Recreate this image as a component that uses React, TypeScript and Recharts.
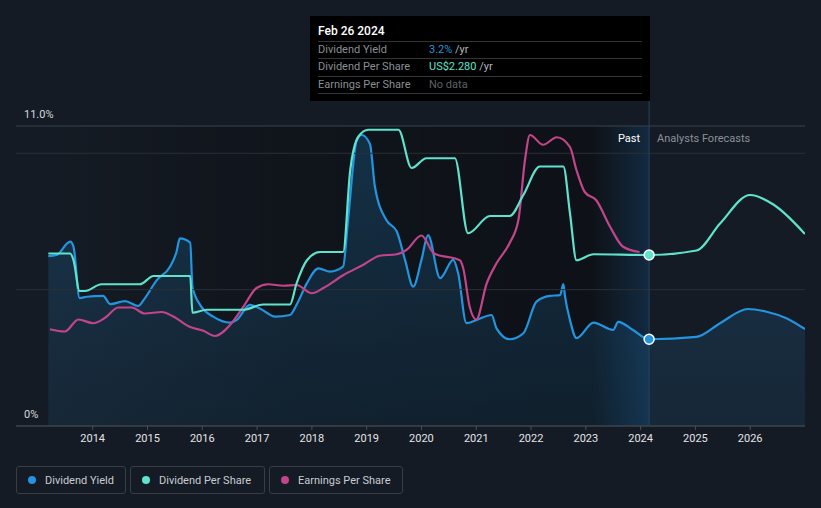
import React from 'react';
import {
  ComposedChart,
  Line,
  Area,
  XAxis,
  YAxis,
  ReferenceLine,
  ReferenceArea,
  ReferenceDot,
} from 'recharts';

// Dividend yield (%) — past + forecast
const yieldYears = [2013.19, 2013.34, 2013.59, 2013.65, 2013.76, 2013.89, 2014.19, 2014.32, 2014.59, 2014.83, 2014.95, 2015.17, 2015.41, 2015.53, 2015.59, 2015.78, 2015.82, 2015.96, 2016.2, 2016.51, 2016.63, 2016.87, 2017.05, 2017.33, 2017.6, 2017.72, 2017.91, 2018.12, 2018.33, 2018.57, 2018.66, 2018.82, 2018.91, 2019.06, 2019.15, 2019.36, 2019.55, 2019.7, 2019.85, 2020.0, 2020.12, 2020.34, 2020.58, 2020.67, 2020.82, 2021.01, 2021.28, 2021.37, 2021.61, 2021.86, 2022.1, 2022.34, 2022.53, 2022.59, 2022.62, 2022.71, 2022.83, 2023.14, 2023.5, 2023.59, 2023.86, 2024.155, 2025.02, 2025.45, 2025.96, 2026.3, 2026.66, 2027.0];
const yieldValues = [6.23, 6.27, 6.76, 6.57, 4.69, 4.74, 4.77, 4.47, 4.58, 4.4, 4.68, 5.35, 5.84, 6.39, 6.88, 6.72, 5.11, 4.44, 4.01, 3.79, 3.89, 4.44, 4.31, 4.01, 4.07, 4.44, 5.24, 5.78, 5.66, 5.84, 7.55, 10.49, 10.67, 10.34, 8.78, 7.55, 7.13, 6.09, 5.11, 6.09, 7.0, 5.42, 6.09, 5.6, 3.77, 3.89, 4.07, 3.58, 3.18, 3.4, 4.56, 4.77, 4.8, 5.2, 4.75, 3.89, 3.22, 3.79, 3.52, 3.82, 3.52, 3.18, 3.27, 3.77, 4.29, 4.19, 3.95, 3.55];

// Dividend per share (US$)
const dpsYears = [2013.19, 2013.59, 2013.65, 2013.76, 2013.86, 2014.16, 2014.86, 2015.11, 2015.78, 2015.82, 2016.08, 2016.75, 2017.11, 2017.6, 2017.72, 2017.91, 2018.15, 2018.57, 2018.7, 2018.85, 2019.03, 2019.58, 2019.82, 2020.09, 2020.61, 2020.85, 2021.25, 2021.61, 2021.86, 2022.16, 2022.59, 2022.71, 2022.83, 2023.14, 2024.155, 2025.02, 2025.45, 2026.0, 2026.43, 2027.0];
const dpsValues = [2.3, 2.3, 2.21, 1.8, 1.8, 1.89, 1.89, 2.0, 2.0, 1.51, 1.55, 1.55, 1.62, 1.62, 1.9, 2.21, 2.32, 2.32, 3.41, 3.86, 3.95, 3.95, 3.44, 3.57, 3.57, 2.57, 2.8, 2.8, 3.08, 3.46, 3.46, 2.84, 2.21, 2.29, 2.28, 2.34, 2.7, 3.08, 2.95, 2.56];

// Earnings per share (US$)
const epsYears = [2013.22, 2013.49, 2013.74, 2014.01, 2014.22, 2014.47, 2014.71, 2014.95, 2015.26, 2015.47, 2015.78, 2016.02, 2016.23, 2016.51, 2016.75, 2016.99, 2017.2, 2017.48, 2017.72, 2018.0, 2018.21, 2018.57, 2018.94, 2019.24, 2019.55, 2019.73, 2020.0, 2020.23, 2020.7, 2020.76, 2020.88, 2021.0, 2021.19, 2021.37, 2021.61, 2021.77, 2021.89, 2021.98, 2022.22, 2022.47, 2022.71, 2022.83, 2022.98, 2023.19, 2023.44, 2023.68, 2023.98];
const epsValues = [1.29, 1.26, 1.42, 1.37, 1.44, 1.58, 1.58, 1.5, 1.52, 1.46, 1.32, 1.27, 1.2, 1.35, 1.59, 1.84, 1.89, 1.87, 1.88, 1.77, 1.84, 2.01, 2.15, 2.27, 2.29, 2.35, 2.54, 2.3, 2.21, 2.11, 1.59, 1.42, 1.9, 2.17, 2.44, 2.75, 3.55, 3.88, 3.75, 3.85, 3.72, 3.41, 3.12, 3.01, 2.66, 2.39, 2.32];

const yearTicks = [2014, 2015, 2016, 2017, 2018, 2019, 2020, 2021, 2022, 2023, 2024, 2025, 2026];

const presentYear = 2024.155;
const pastStart = 2023.15;
const dataStart = 2013.19;
const currentYield = 3.18;
const currentDps = 2.28;

const yieldData = yieldYears.map((x, i) => ({ x, yld: yieldValues[i] }));
const dpsData = dpsYears.map((x, i) => ({ x, dps: dpsValues[i] }));
const epsData = epsYears.map((x, i) => ({ x, eps: epsValues[i] }));

const BLUE = '#2394df';
const TEAL = '#5fe3cd';
const PINK = '#c2458b';
const FONT = 'Roboto, "Noto Sans", sans-serif';

const PastLabel = (props: any) => {
  const vb = props.viewBox || {};
  const x = vb.x;
  const y = (vb.y || 0) + 41;
  return (
    <g>
      <text x={x - 9} y={y} textAnchor="end" fill="#ffffff" fontSize={11} fontFamily={FONT}>
        Past
      </text>
      <text x={x + 8} y={y} textAnchor="start" fill="#8b9098" fontSize={11} fontFamily={FONT}>
        Analysts Forecasts
      </text>
    </g>
  );
};

const legendItems = [
  { label: 'Dividend Yield', color: BLUE, width: 110 },
  { label: 'Dividend Per Share', color: TEAL, width: 135 },
  { label: 'Earnings Per Share', color: PINK, width: 134 },
];

export default function App() {
  return (
    <div
      style={{
        position: 'absolute',
        left: 0,
        top: 0,
        width: 821,
        height: 508,
        background: '#151b24',
        overflow: 'hidden',
        fontFamily: FONT,
      }}
    >
      <ComposedChart
        width={821}
        height={508}
        margin={{ top: 101, right: 16, bottom: 52, left: 16 }}
      >
        <defs>
          <linearGradient id="darkGrad" x1="0" y1="0" x2="1" y2="0">
            <stop offset="0" stopColor="#000000" stopOpacity={0} />
            <stop offset="0.45" stopColor="#000000" stopOpacity={0.25} />
            <stop offset="1" stopColor="#000000" stopOpacity={0.35} />
          </linearGradient>
          <linearGradient id="pastGrad" x1="0" y1="0" x2="1" y2="0">
            <stop offset="0" stopColor="#0e1319" stopOpacity={1} />
            <stop offset="1" stopColor="#132a41" stopOpacity={1} />
          </linearGradient>
          <linearGradient id="areaGrad" x1="0" y1="0" x2="0" y2="1">
            <stop offset="0" stopColor={BLUE} stopOpacity={0.22} />
            <stop offset="1" stopColor={BLUE} stopOpacity={0.1} />
          </linearGradient>
        </defs>
        <XAxis
          dataKey="x"
          type="number"
          domain={[2012.6, 2027.0]}
          ticks={yearTicks}
          allowDataOverflow
          height={30}
          axisLine={{ stroke: '#3f444c' }}
          tickLine={{ stroke: '#4a4f57' }}
          tickSize={4}
          tick={{ fill: '#e2e4e8', fontSize: 11, fontFamily: FONT }}
          tickMargin={4}
        />
        <YAxis yAxisId="yield" hide domain={[0, 11.9167]} allowDataOverflow type="number" />
        <YAxis yAxisId="dps" hide domain={[0, 4.3333]} allowDataOverflow type="number" />

        <ReferenceArea
          yAxisId="yield"
          x1={dataStart}
          x2={pastStart}
          y1={0}
          y2={11}
          fill="url(#darkGrad)"
          fillOpacity={1}
          stroke="none"
          zIndex={-60}
        />
        <ReferenceArea
          yAxisId="yield"
          x1={pastStart}
          x2={presentYear}
          y1={0}
          y2={11}
          fill="url(#pastGrad)"
          fillOpacity={1}
          stroke="none"
          zIndex={-60}
        />

        <ReferenceLine yAxisId="yield" y={5} stroke="#2a2f37" strokeWidth={1} />
        <ReferenceLine yAxisId="yield" y={10} stroke="#2a2f37" strokeWidth={1} />
        <ReferenceLine
          yAxisId="yield"
          y={11}
          stroke="#3d424a"
          strokeWidth={1}
          label={{ value: '11.0%', position: 'insideBottomLeft', offset: 8, fill: '#d6d9de', fontSize: 11, fontFamily: FONT }}
        />
        <ReferenceLine
          yAxisId="yield"
          y={0}
          stroke="#3f444c"
          strokeWidth={1}
          label={{ value: '0%', position: 'insideBottomLeft', offset: 8, fill: '#d6d9de', fontSize: 11, fontFamily: FONT }}
        />

        <Area
          yAxisId="yield"
          data={yieldData}
          dataKey="yld"
          type="monotone"
          stroke={BLUE}
          strokeWidth={2.2}
          fill="url(#areaGrad)"
          fillOpacity={1}
          baseValue={0}
          dot={false}
          activeDot={false}
          isAnimationActive={false}
        />
        <Line
          yAxisId="dps"
          data={epsData}
          dataKey="eps"
          type="monotone"
          stroke={PINK}
          strokeWidth={2.2}
          dot={false}
          activeDot={false}
          isAnimationActive={false}
        />
        <Line
          yAxisId="dps"
          data={dpsData}
          dataKey="dps"
          type="monotone"
          stroke={TEAL}
          strokeWidth={2.2}
          dot={false}
          activeDot={false}
          isAnimationActive={false}
        />

        <ReferenceLine
          yAxisId="yield"
          x={presentYear}
          stroke="#27445e"
          strokeWidth={1}
          label={<PastLabel />}
        />
        <ReferenceDot yAxisId="yield" x={presentYear} y={currentYield} r={5} fill={BLUE} stroke="#ffffff" strokeWidth={1.5} />
        <ReferenceDot yAxisId="dps" x={presentYear} y={currentDps} r={5} fill={TEAL} stroke="#ffffff" strokeWidth={1.5} />
      </ComposedChart>

      {/* Tooltip box */}
      <div
        style={{
          position: 'absolute',
          left: 310,
          top: 16,
          width: 340,
          height: 85,
          background: '#000000',
          fontSize: 11,
          fontFamily: FONT,
        }}
      >
        <div style={{ position: 'absolute', left: 8, top: 8, lineHeight: '14px', fontSize: 12, color: '#ffffff', fontWeight: 500 }}>
          Feb 26 2024
        </div>
        {[25, 42, 60, 77].map((t) => (
          <div key={t} style={{ position: 'absolute', left: 8, top: t, width: 324, height: 1, background: '#333436' }} />
        ))}
        <div style={{ position: 'absolute', left: 8, top: 26, lineHeight: '16px', color: '#8a8e94' }}>Dividend Yield</div>
        <div style={{ position: 'absolute', left: 119, top: 26, lineHeight: '16px', color: '#b3b6ba' }}>
          <span style={{ color: BLUE }}>3.2%</span> /yr
        </div>
        <div style={{ position: 'absolute', left: 8, top: 43, lineHeight: '16px', color: '#8a8e94' }}>Dividend Per Share</div>
        <div style={{ position: 'absolute', left: 119, top: 43, lineHeight: '16px', color: '#b3b6ba' }}>
          <span style={{ color: TEAL }}>US$2.280</span> /yr
        </div>
        <div style={{ position: 'absolute', left: 8, top: 61, lineHeight: '16px', color: '#8a8e94' }}>Earnings Per Share</div>
        <div style={{ position: 'absolute', left: 119, top: 61, lineHeight: '16px', color: '#5c6066' }}>No data</div>
      </div>

      {/* Legend */}
      <div style={{ position: 'absolute', left: 16, top: 466, display: 'flex', gap: 4 }}>
        {legendItems.map((it) => (
          <div
            key={it.label}
            style={{
              boxSizing: 'border-box',
              width: it.width,
              height: 28,
              border: '1px solid #393e46',
              borderRadius: 3,
              display: 'flex',
              alignItems: 'center',
              paddingLeft: 11,
              color: '#c9ccd1',
              fontSize: 11,
              fontFamily: FONT,
            }}
          >
            <span
              style={{
                display: 'inline-block',
                width: 8,
                height: 8,
                borderRadius: '50%',
                background: it.color,
                marginRight: 9,
              }}
            />
            {it.label}
          </div>
        ))}
      </div>
    </div>
  );
}
